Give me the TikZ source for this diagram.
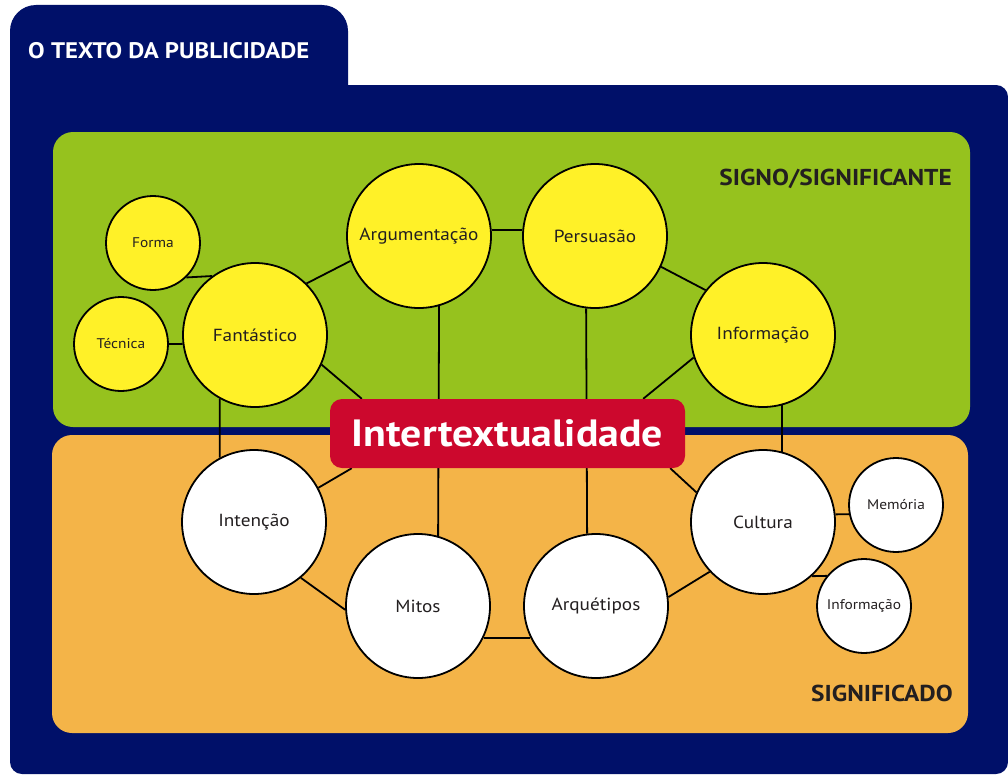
\documentclass[tikz,border=0pt]{standalone}
\usepackage{fontspec}
\setmainfont[FakeStretch=1.1]{PT Sans}
\definecolor{marine}{RGB}{0,16,105}
\definecolor{gruen}{RGB}{150,194,30}
\definecolor{ocker}{RGB}{244,180,72}
\definecolor{gelb}{RGB}{255,241,40}
\definecolor{rot}{RGB}{204,8,45}
\definecolor{schrift}{RGB}{35,31,32}
\pgfdeclarelayer{flaechen}
\pgfdeclarelayer{linien}
\pgfsetlayers{flaechen,linien,main}
\tikzstyle{kreis}=[circle,draw=black,line width=1.8pt,inner sep=0pt,text=schrift]
\tikzstyle{gross}=[kreis,minimum size=144pt,font=\fontsize{17.5}{20}\selectfont]
\tikzstyle{klein}=[kreis,minimum size=94pt,font=\fontsize{14}{16}\selectfont]
\tikzstyle{verbindung}=[line width=1.8pt]
\tikzstyle{titel}=[font=\bfseries\fontsize{23}{25}\selectfont,inner sep=0pt]

\begin{document}
\begin{tikzpicture}[x=1pt,y=-1pt]
			\useasboundingbox (0,0) rectangle (1008,776);
			\begin{pgfonlayer}{flaechen}
			% Rahmen zeichnen
			\fill[marine,rounded corners=26pt] (10,5) rectangle (348,200);
			\fill[marine,rounded corners=12pt] (10,85) rectangle (1008,774);
			% Felder zeichnen
			\fill[gruen,rounded corners=20pt] (53,132) rectangle (970,427);
			\fill[ocker,rounded corners=20pt] (52,435) rectangle (968,733);
			\end{pgfonlayer}
			% Beschriftung der Felder
			\node[titel,font=\bfseries\fontsize{22.5}{25}\selectfont,text=white,anchor=base west] (kopf) at (28,59) {O TEXTO DA PUBLICIDADE};
			\node[titel,text=schrift,anchor=base east] (signo) at (952,185) {SIGNO/SIGNIFICANTE};
			\node[titel,text=schrift,anchor=base east] (sign) at (953,701) {SIGNIFICADO};
			% Kreise oben
			\node[gross,fill=gelb] (fant) at (255,335) {Fantástico};
			\node[gross,fill=gelb] (arg) at (419,236) {Argumentação};
			\node[gross,fill=gelb] (pers) at (595,236) {Persuasão};
			\node[gross,fill=gelb] (infoA) at (763,335) {Informação};
			\node[klein,fill=gelb] (forma) at (153,243) {Forma};
			\node[klein,fill=gelb] (tecnica) at (121,344) {Técnica};
			% Kreise unten
			\node[gross,fill=white] (inten) at (254,522) {Intenção};
			\node[gross,fill=white] (mitos) at (418,606) {Mitos};
			\node[gross,fill=white] (arq) at (596,606) {Arquétipos};
			\node[gross,fill=white] (cult) at (763,522) {Cultura};
			\node[klein,fill=white] (mem) at (896,505) {Memória};
			\node[klein,fill=white] (infoB) at (864,606) {Informação};
			% Mitte
			\node[fill=rot,rounded corners=12pt,minimum width=355pt,minimum height=69pt,text=white,
				font=\bfseries\fontsize{38}{42}\selectfont] (inter) at (507.5,433.5) {Intertextualidade};
			\begin{pgfonlayer}{linien}
			% Verbindungen zeichnen
			\draw[verbindung] (forma.-46) -- (fant.126);
			\draw[verbindung] (tecnica.0) -- (fant.187);
			\draw[verbindung] (fant.45) -- (arg.200);
			\draw[verbindung] (fant.-24) -- ([xshift=32pt]inter.north west);
			\draw[verbindung] (arg.5) -- (pers.175);
			\draw[verbindung] (arg.-74) -- (mitos.74);
			\draw[verbindung] (pers.-97) -- (arq.97);
			\draw[verbindung] (pers.-25) -- (infoA.142);
			\draw[verbindung] (infoA.198) -- ([xshift=-42pt]inter.north east);
			\draw[verbindung] (infoA.-75) -- (cult.75);
			\draw[verbindung] (fant.-119) -- (inten.118);
			\draw[verbindung] (inten.28) -- ([xshift=22pt]inter.south west);
			\draw[verbindung] (inten.-50) -- (mitos.183);
			\draw[verbindung] (mitos.-26) -- (arq.206);
			\draw[verbindung] (arq.7) -- (cult.223);
			\draw[verbindung] (cult.156) -- ([xshift=-15pt]inter.south east);
			\draw[verbindung] (cult.6) -- (mem.191);
			\draw[verbindung] (cult.-48) -- (infoB.141);
			\end{pgfonlayer}
		\end{tikzpicture}
\end{document}
